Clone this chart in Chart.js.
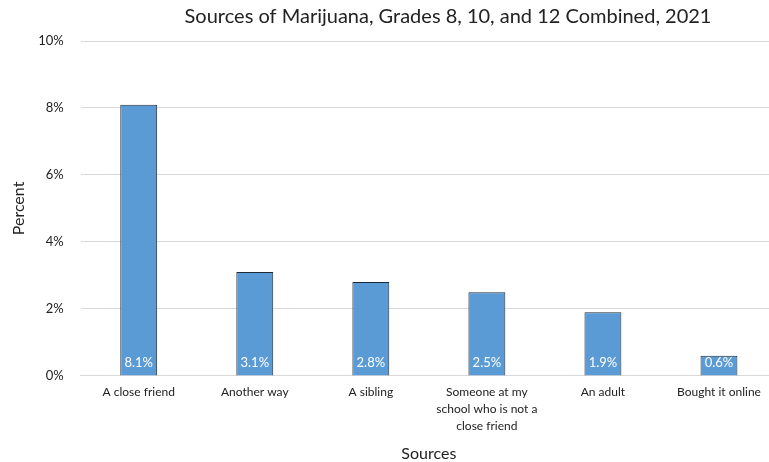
<!DOCTYPE html>
<html>
<head>
<meta charset="utf-8">
<script src="https://cdn.jsdelivr.net/npm/chart.js@4"></script>
<style>
  body { margin: 0; background: #fff; overflow: hidden; }
  #wrap { width: 777px; height: 462px; }
</style>
</head>
<body>
<div id="wrap"><canvas id="sourcesChart"></canvas></div>
<script>
const chartTitle = 'Sources of Marijuana, Grades 8, 10, and 12 Combined, 2021';
const categories = [
    'A close friend',
    'Another way',
    'A sibling',
    ['Someone at my', 'school who is not a', 'close friend'],
    'An adult',
    'Bought it online'
];
const percentValues = [8.1, 3.1, 2.8, 2.5, 1.9, 0.6];
const yTicks = [0, 2, 4, 6, 8, 10];

const fontFamily = 'Lato, "Open Sans", sans-serif';

// white value labels sitting at the foot of each bar
const baseLabels = {
    id: 'baseLabels',
    afterDatasetsDraw(chart) {
        const ctx = chart.ctx;
        const meta = chart.getDatasetMeta(0);
        const yBase = chart.scales.y.getPixelForValue(0);
        ctx.save();
        ctx.fillStyle = '#ffffff';
        ctx.font = '13px ' + fontFamily;
        ctx.textAlign = 'center';
        ctx.textBaseline = 'middle';
        meta.data.forEach((bar, i) => {
            ctx.fillText(percentValues[i].toFixed(1) + '%', bar.x, yBase - 13);
        });
        ctx.restore();
    }
};

// the title sits a bit right of centre, as in the original
const offsetTitle = {
    id: 'offsetTitle',
    afterDraw(chart) {
        const ctx = chart.ctx;
        ctx.save();
        ctx.fillStyle = '#222';
        ctx.font = '20px ' + fontFamily;
        ctx.textAlign = 'center';
        ctx.textBaseline = 'middle';
        ctx.fillText(chartTitle, 448, 17);
        ctx.restore();
    }
};

new Chart(document.getElementById('sourcesChart').getContext('2d'), {
    type: 'bar',
    data: {
        labels: categories,
        datasets: [{
            data: percentValues,
            backgroundColor: '#5B9BD5',
            borderColor: '#1e2a38',
            borderWidth: 1,
            categoryPercentage: 1,
            barPercentage: 0.318
        }]
    },
    options: {
        responsive: true,
        maintainAspectRatio: false,
        animation: false,
        layout: { padding: { left: 6, right: 0, top: 41, bottom: 0 } },
        plugins: {
            legend: { display: false },
            tooltip: { enabled: false },
            title: { display: false }
        },
        scales: {
            x: {
                grid: { display: false },
                border: { color: '#d9d9d9' },
                ticks: {
                    color: '#222',
                    font: { family: fontFamily, size: 12, lineHeight: 1.42 },
                    maxRotation: 0,
                    padding: 0
                },
                title: {
                    display: true,
                    text: 'Sources',
                    color: '#222',
                    font: { family: fontFamily, size: 16, lineHeight: 1.0 },
                    padding: { top: 11, bottom: 0 }
                }
            },
            y: {
                min: 0,
                max: 10,
                afterBuildTicks: axis => { axis.ticks = yTicks.map(v => ({ value: v })); },
                grid: { color: '#d9d9d9', drawTicks: false },
                border: { display: false },
                ticks: {
                    color: '#222',
                    font: { family: fontFamily, size: 13 },
                    padding: 17,
                    callback: v => v + '%'
                },
                title: {
                    display: true,
                    text: 'Percent',
                    color: '#222',
                    font: { family: fontFamily, size: 16 },
                    padding: { top: 3, bottom: -7 }
                }
            }
        }
    },
    plugins: [baseLabels, offsetTitle]
});
</script>
</body>
</html>
